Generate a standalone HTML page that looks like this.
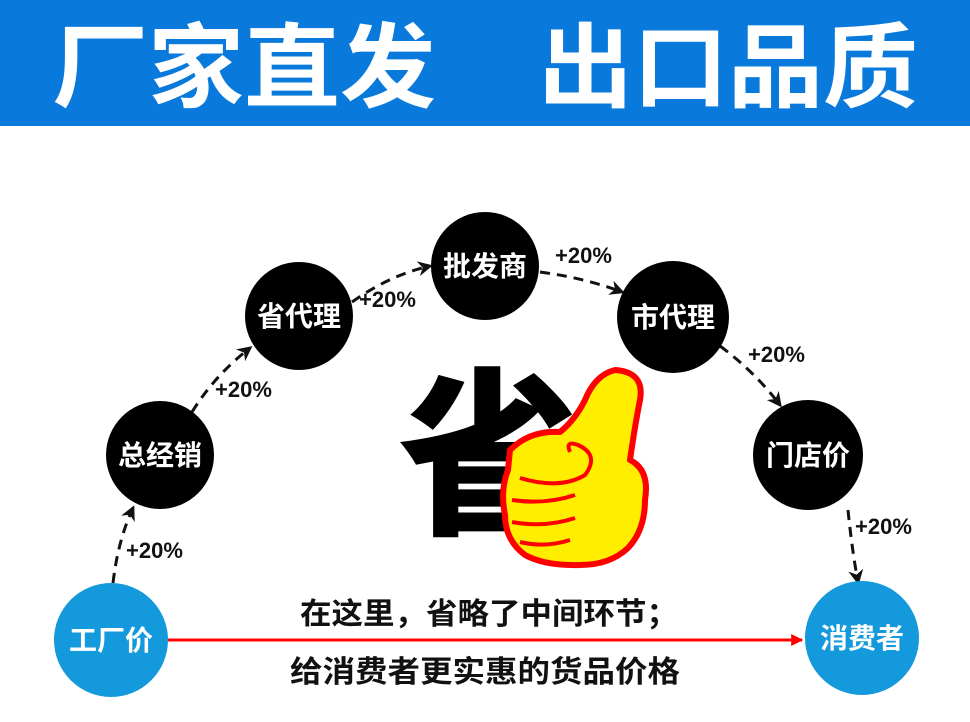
<!DOCTYPE html>
<html><head><meta charset="utf-8"><style>
body{margin:0;width:970px;height:722px;background:#fff;overflow:hidden;font-family:"Liberation Sans","Noto Sans CJK SC",sans-serif}
</style></head><body>
<svg width="970" height="722" viewBox="0 0 970 722" xmlns="http://www.w3.org/2000/svg" style="display:block">
<defs><marker id="a" viewBox="0 0 10 10" refX="8" refY="5" markerWidth="5" markerHeight="5" orient="auto"><path d="M0,0L10,5L0,10L3,5z" fill="#111"/></marker>
<marker id="r" viewBox="0 0 10 10" refX="9" refY="5" markerWidth="4" markerHeight="4" orient="auto"><path d="M0,0L10,5L0,10z" fill="#f00"/></marker></defs>
<rect width="970" height="126" fill="#0a79dc"/>
<g font-family="'Noto Sans CJK SC',sans-serif" font-weight="bold" font-size="92" fill="#fff">
<text x="52" y="100" textLength="384" lengthAdjust="spacingAndGlyphs">厂家直发</text>
<text x="538" y="100" textLength="380" lengthAdjust="spacingAndGlyphs">出口品质</text>
</g>
<g fill="none" stroke="#111" stroke-width="3" stroke-dasharray="10,7" marker-end="url(#a)">
<path d="M113,583 Q118,540 133,508"/>
<path d="M192,412 Q215,375 250,348"/>
<path d="M352,302 Q390,275 430,266"/>
<path d="M540,272 Q585,278 622,292"/>
<path d="M720,346 Q755,372 780,405"/>
<path d="M848,510 Q852,550 858,582"/>
</g>
<line x1="168" y1="640" x2="802" y2="640" stroke="#f00" stroke-width="3" marker-end="url(#r)"/>
<g font-family="'Liberation Sans',sans-serif" font-weight="bold" font-size="22" fill="#111">
<text x="126" y="558">+20%</text><text x="215" y="397">+20%</text><text x="359" y="307">+20%</text>
<text x="555" y="263">+20%</text><text x="748" y="362">+20%</text><text x="855" y="534">+20%</text>
</g>
<g fill="#000"><circle cx="160" cy="455" r="54"/><circle cx="299" cy="316" r="54"/><circle cx="485" cy="266" r="54"/><circle cx="673" cy="317" r="56"/><circle cx="808" cy="455" r="55"/></g>
<g fill="#1499dd"><circle cx="111" cy="640" r="57"/><circle cx="862" cy="638" r="57"/></g>
<g font-family="'Noto Sans CJK SC',sans-serif" font-weight="bold" font-size="28" fill="#fff" text-anchor="middle">
<text x="160" y="465">总经销</text><text x="299" y="326">省代理</text><text x="485" y="276">批发商</text>
<text x="673" y="327">市代理</text><text x="808" y="465">门店价</text>
<text x="111" y="650">工厂价</text><text x="862" y="648">消费者</text>
</g>
<g font-family="'Noto Sans CJK SC',sans-serif" font-weight="bold" font-size="30" fill="#111">
<text x="300" y="624" textLength="378" lengthAdjust="spacingAndGlyphs">在这里，省略了中间环节；</text>
<text x="290" y="682" textLength="390" lengthAdjust="spacingAndGlyphs">给消费者更实惠的货品价格</text>
</g>
<text x="398" y="520" font-family="'Noto Sans CJK SC',sans-serif" font-weight="900" font-size="180" fill="#000">省</text>
<g stroke="#f00" stroke-width="6" fill="#ffee00" stroke-linejoin="round">
<path d="M510,450 Q530,430 560,432 Q575,420 585,400 Q595,375 615,370 Q645,372 640,400 Q635,425 630,460 Q650,470 645,500 Q645,530 628,548 Q610,565 580,565 Q545,566 525,555 Q505,540 505,515 Q500,490 508,470 Z"/>
<path d="M570,452 Q565,440 578,445 Q600,455 585,475 Q560,490 520,478" fill="none" stroke-width="4"/>
<path d="M512,500 Q545,505 575,495" fill="none" stroke-width="4"/>
<path d="M512,522 Q545,528 575,518" fill="none" stroke-width="4"/>
<path d="M520,542 Q545,548 570,540" fill="none" stroke-width="4"/>
</g>
</svg>
</body></html>
